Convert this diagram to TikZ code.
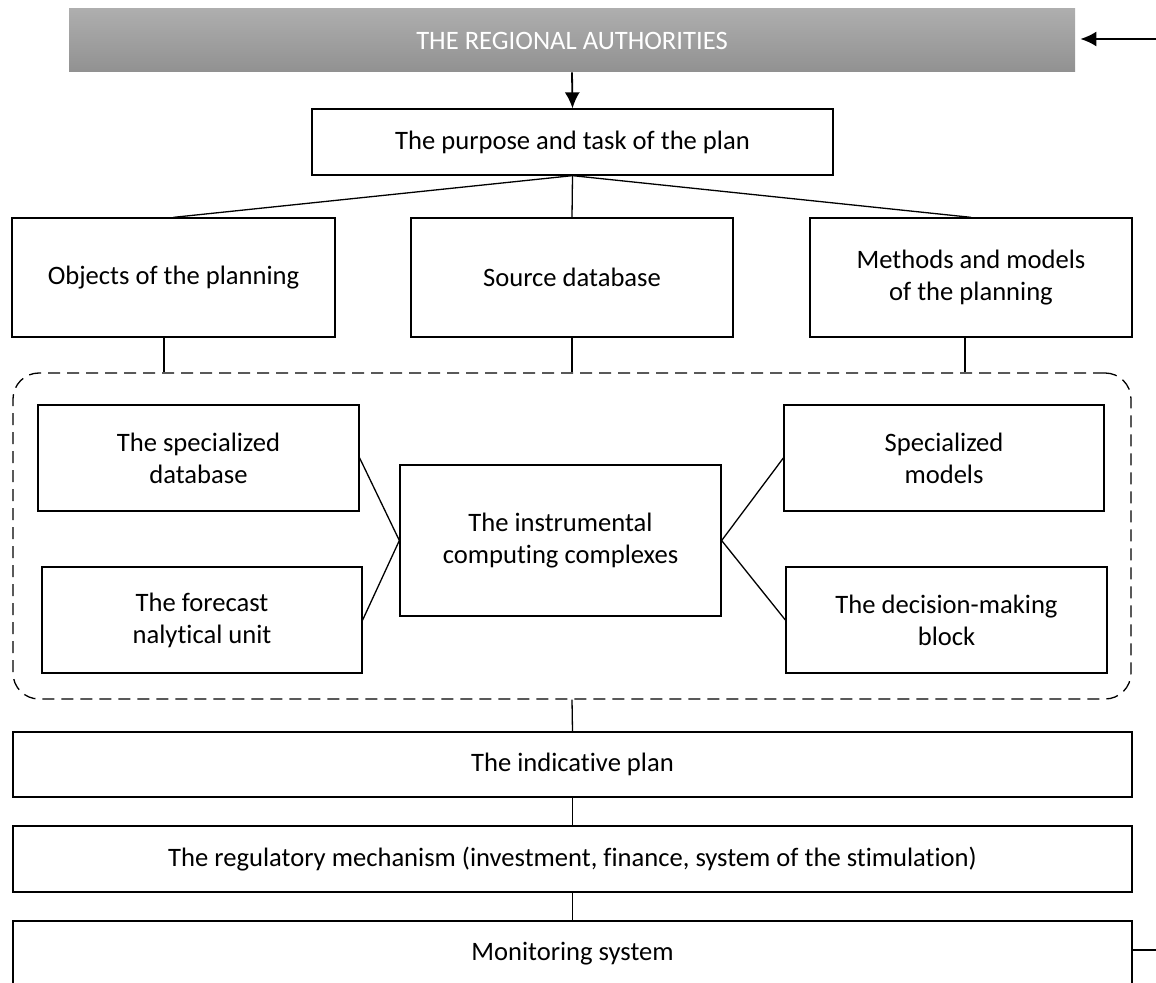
\documentclass[tikz,border=0pt]{standalone}
\usepackage{fontspec}
\setmainfont{Carlito}[Ligatures={NoCommon}]
\usetikzlibrary{arrows.meta,calc}
\definecolor{bartop}{RGB}{174,174,174}
\definecolor{barbot}{RGB}{145,145,145}
\begin{document}
\begin{tikzpicture}[x=0.5pt,y=-0.5pt,
  txt/.style={font=\fontsize{13.3pt}{16pt}\selectfont},
  box/.style={draw, line width=0.65pt, inner sep=0pt, align=center, txt},
  conn/.style={line width=0.65pt},
  arr/.style={line width=0.9pt, -{Latex[length=8pt,width=7.5pt]}},
  grpbox/.style={draw, dashed, dash pattern=on 6pt off 3.5pt, line width=0.65pt, rounded corners=13pt, inner sep=0pt}
]
\useasboundingbox (0,0) rectangle (1156,983);
% top bar
\node[inner sep=0pt, minimum width=503pt, minimum height=31.5pt, top color=bartop, bottom color=barbot, text=white, txt] (bar) at (572,40.5) {THE REGIONAL AUTHORITIES};
\coordinate (inarr) at (1156,39);
\draw[arr] (inarr) -- ([xshift=2.5pt]bar.east |- inarr);
% purpose
\node[box, minimum width=260.5pt, minimum height=33pt] (purpose) at (572.5,142) {The purpose and task of the plan};
\draw[arr] (bar.south) -- (purpose.north);
% second row
\node[box, minimum width=161.5pt, minimum height=59.5pt] (objects) at (173.5,277.5) {Objects of the planning};
\node[box, minimum width=161pt, minimum height=59.5pt] (source) at (572,277.5) {Source database};
\node[box, minimum width=161pt, minimum height=59.5pt] (methods) at (971,277.5) {Methods and models\\of the planning};
\draw[conn] (purpose.south) -- (objects.north);
\draw[conn] (purpose.south) -- (source.north);
\draw[conn] (purpose.south) -- (methods.north);
% dashed group
\node[grpbox, minimum width=559pt, minimum height=163pt] (grp) at (572,536) {};
\draw[conn] ([xshift=-4.75pt]objects.south) -- ([xshift=-4.75pt]objects.south |- grp.north);
\draw[conn] (source.south) -- (source.south |- grp.north);
\draw[conn] ([xshift=-3pt]methods.south) -- ([xshift=-3pt]methods.south |- grp.north);
% inner boxes
\node[box, minimum width=160.5pt, minimum height=53pt] (specdb) at (198.5,458) {The specialized\\database};
\node[box, minimum width=160pt, minimum height=53pt] (forecast) at (202,620) {The forecast\\nalytical unit};
\node[box, minimum width=160.5pt, minimum height=75.5pt] (instr) at (560.5,540.5) {The instrumental\\computing complexes};
\node[box, minimum width=160pt, minimum height=53pt] (specmod) at (944,458) {Specialized\\models};
\node[box, minimum width=160.5pt, minimum height=53pt] (decision) at (946.5,620) {The decision-making\\block};
\draw[conn] (specdb.east) -- (instr.west);
\draw[conn] (forecast.east) -- (instr.west);
\draw[conn] (specmod.west) -- (instr.east);
\draw[conn] (decision.west) -- (instr.east);
% bottom boxes
\node[box, minimum width=559.5pt, minimum height=32.5pt] (indicative) at (572.5,764.5) {The indicative plan};
\node[box, minimum width=559.5pt, minimum height=33pt] (regulatory) at (572.5,859) {The regulatory mechanism (investment, finance, system of the stimulation)};
\node[box, minimum width=559.5pt, minimum height=32.5pt] (monitoring) at (572.5,953.5) {Monitoring system};
\draw[conn] (grp.south) -- (indicative.north);
\draw[conn] (indicative.south) -- (regulatory.north);
\draw[conn] (regulatory.south) -- (monitoring.north);
\coordinate (outend) at (1156,950);
\draw[conn] (monitoring.east |- outend) -- (outend);
\end{tikzpicture}
\end{document}
